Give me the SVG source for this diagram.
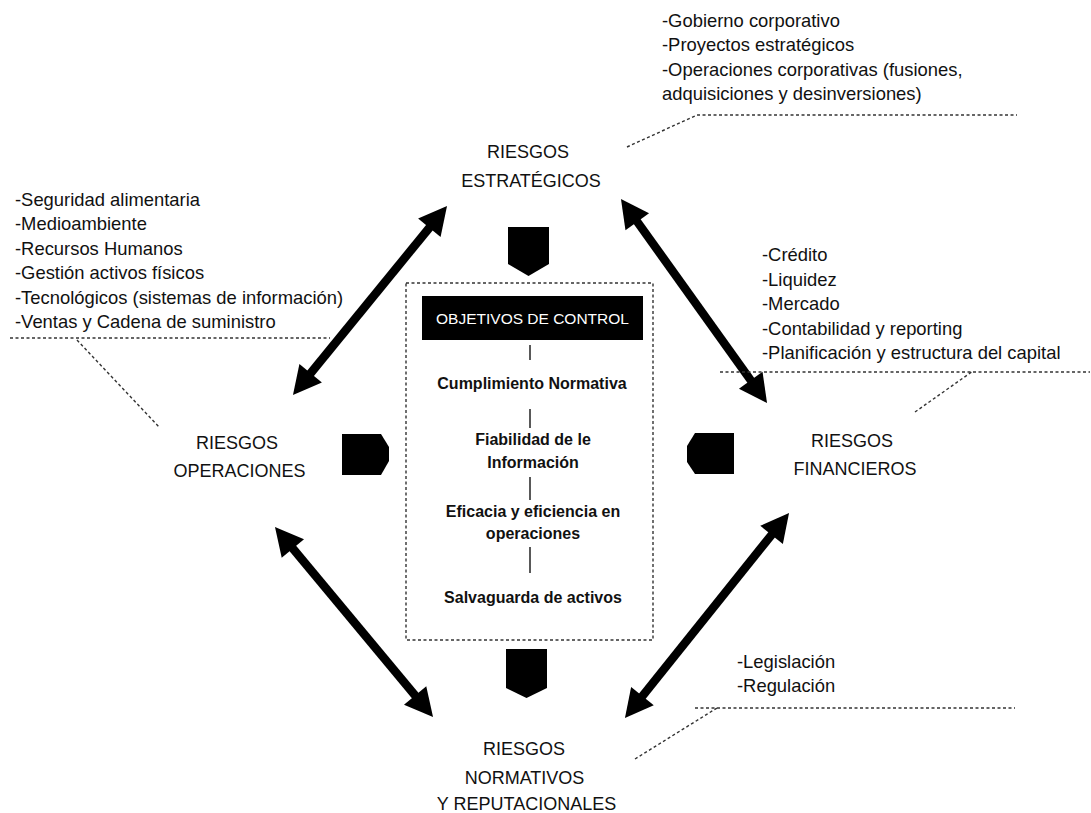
<svg xmlns="http://www.w3.org/2000/svg" width="1091" height="813" viewBox="0 0 1091 813">
<style>
text{font-family:"Liberation Sans",Arial,sans-serif;fill:#111}
.node{font-size:18px;text-anchor:middle}
.list{font-size:18.4px}
.obj{font-size:16px;font-weight:bold;text-anchor:middle}
.title{font-size:15.5px;fill:#fff;text-anchor:middle}
.arrow{stroke:#000;stroke-width:8.5;fill:none;marker-start:url(#head);marker-end:url(#head)}
.lead{stroke:#333;stroke-width:1.4;fill:none;stroke-dasharray:3 2.5}
.chev{fill:#000}
.tick{stroke:#222;stroke-width:1.5}
</style>
<defs>
<marker id="head" viewBox="-2 -16 34 32" markerWidth="34" markerHeight="32" refX="2" refY="0" orient="auto-start-reverse" markerUnits="userSpaceOnUse">
<path d="M0,-14.5 L28,0 L0,14.5 Z" fill="#000"/>
</marker>
</defs>
<rect width="1091" height="813" fill="#fff"/>

<g id="connectors">
<line class="arrow" x1="309.4" y1="374.8" x2="430.6" y2="226.2"/>
<line class="arrow" x1="636.1" y1="220.1" x2="751.9" y2="381.9"/>
<line class="arrow" x1="772.8" y1="533.3" x2="641.2" y2="697.7"/>
<line class="arrow" x1="291.6" y1="547" x2="416.4" y2="697"/>
<polyline class="lead" points="627,147 697,115 1017,115"/>
<polyline class="lead" points="10,338 330,338"/>
<polyline class="lead" points="77,340 160,428"/>
<polyline class="lead" points="720,372 1090,372"/>
<polyline class="lead" points="915,412 973,371"/>
<polyline class="lead" points="635,759 717,708"/>
<polyline class="lead" points="695,708 1015,708"/>
<polygon class="chev" points="508,227 549,227 549,264 528.5,276 508,264"/>
<polygon class="chev" points="506,649 547,649 547,688 526.5,698 506,688"/>
<polygon class="chev" points="342,434 381,434 389,447 389,461 381,475 342,475"/>
<polygon class="chev" points="734,433 695,433 687,446 687,462 695,474 734,474"/>
</g>

<g id="objetivos">
<rect x="406" y="283" width="247" height="357" fill="none" stroke="#333" stroke-width="1.4" stroke-dasharray="3 2.5"/>
<rect x="422" y="296" width="221" height="44" fill="#000"/>
<text class="title" x="532.5" y="324">OBJETIVOS DE CONTROL</text>
<line class="tick" x1="530" y1="345" x2="530" y2="360"/>
<text class="obj" x="532" y="389">Cumplimiento Normativa</text>
<line class="tick" x1="530" y1="409" x2="530" y2="428"/>
<text class="obj" x="533" y="445">Fiabilidad de le</text>
<text class="obj" x="533" y="468">Información</text>
<line class="tick" x1="530" y1="477" x2="530" y2="500"/>
<text class="obj" x="533" y="517">Eficacia y eficiencia en</text>
<text class="obj" x="533" y="539">operaciones</text>
<line class="tick" x1="530" y1="547" x2="530" y2="573"/>
<text class="obj" x="533" y="603">Salvaguarda de activos</text>
</g>

<g id="riesgos-estrategicos">
<text class="node" x="528" y="158">RIESGOS</text>
<text class="node" x="531" y="187">ESTRATÉGICOS</text>
</g>
<g id="riesgos-operaciones">
<text class="node" x="237" y="449">RIESGOS</text>
<text class="node" x="239.5" y="477">OPERACIONES</text>
</g>
<g id="riesgos-financieros">
<text class="node" x="852" y="447">RIESGOS</text>
<text class="node" x="855" y="475">FINANCIEROS</text>
</g>
<g id="riesgos-normativos">
<text class="node" x="524" y="755">RIESGOS</text>
<text class="node" x="524.5" y="784">NORMATIVOS</text>
<text class="node" x="526.5" y="810">Y REPUTACIONALES</text>
</g>

<g id="lista-estrategicos">
<text class="list" x="662" y="27">-Gobierno corporativo</text>
<text class="list" x="662" y="51.3">-Proyectos estratégicos</text>
<text class="list" x="662" y="75.6">-Operaciones corporativas (fusiones,</text>
<text class="list" x="662" y="99.9">adquisiciones y desinversiones)</text>
</g>
<g id="lista-operaciones">
<text class="list" x="15" y="206">-Seguridad alimentaria</text>
<text class="list" x="15" y="230.4">-Medioambiente</text>
<text class="list" x="15" y="254.8">-Recursos Humanos</text>
<text class="list" x="15" y="279.2">-Gestión activos físicos</text>
<text class="list" x="15" y="303.6">-Tecnológicos (sistemas de información)</text>
<text class="list" x="15" y="328">-Ventas y Cadena de suministro</text>
</g>
<g id="lista-financieros">
<text class="list" x="762" y="261">-Crédito</text>
<text class="list" x="762" y="285.5">-Liquidez</text>
<text class="list" x="762" y="310">-Mercado</text>
<text class="list" x="762" y="334.5">-Contabilidad y reporting</text>
<text class="list" x="762" y="359">-Planificación y estructura del capital</text>
</g>
<g id="lista-normativos">
<text class="list" x="737" y="668">-Legislación</text>
<text class="list" x="737" y="692">-Regulación</text>
</g>
</svg>
